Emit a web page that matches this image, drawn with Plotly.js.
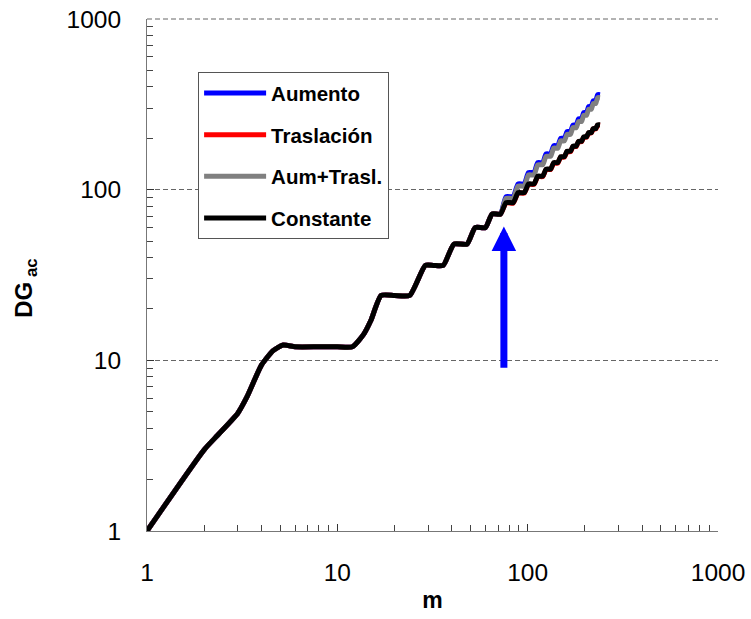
<!DOCTYPE html>
<html>
<head>
<meta charset="utf-8">
<script src="https://cdn.plot.ly/plotly-3.0.1.min.js"></script>
<style>
  html, body { margin: 0; padding: 0; background: #fff; }
  #chart { width: 751px; height: 619px; }
</style>
</head>
<body>
<div id="chart"></div>
<script>
// Accumulated DG versus m, log-log, four scenarios.
// Shared part of the curve (all scenarios coincide up to m = 72).
const mShared = [1, 2, 2.35, 3, 3.35, 4, 4.6, 5.2, 6, 8, 10, 12, 13.8, 15, 17, 20, 24, 29, 32, 36, 41, 48, 53, 60, 65, 72];
const dgShared = [1, 3.0, 3.64, 4.9, 6.1, 9.4, 11.4, 12.3, 12.0, 12, 12, 12, 14.3, 17.1, 24, 24, 24, 36, 36, 36, 48, 48, 60, 60, 72, 72];

// Beyond m = 72 each scenario follows its own staircase.
const mTail = [77, 84, 89, 96, 101, 108, 113, 120, 125, 132, 137, 144, 149, 156, 161, 168, 173, 180, 185, 192, 197, 204, 209, 216, 221, 228, 233, 240];
const dgAumento = [91, 91, 108, 108, 126, 126, 144, 144, 162, 162, 181, 181, 200, 200, 219, 219, 239, 239, 260, 260, 283, 283, 307, 307, 332, 332, 360, 360];
const dgTraslacion = [83.5, 83.5, 95.5, 95.5, 107.4, 107.4, 119.3, 119.3, 131.2, 131.2, 143, 143, 155, 155, 167, 167, 179, 179, 191, 191, 203, 203, 215, 215, 227, 227, 238.5, 238.5];
const dgAumTrasl = [89, 89, 105, 105, 122, 122, 140, 140, 157, 157, 175, 175, 193, 193, 211, 211, 231, 231, 251, 251, 273, 273, 296, 296, 320, 320, 346, 346];
const dgConstante = [84, 84, 96, 96, 108, 108, 120, 120, 132, 132, 144, 144, 156, 156, 168, 168, 180, 180, 192, 192, 204, 204, 216, 216, 228, 228, 240, 240];

const seriesNames = ['Aumento', 'Traslación', 'Aum+Trasl.', 'Constante'];
const seriesColors = ['#0000ff', '#ff0000', '#808080', '#000000'];
const seriesTails = [dgAumento, dgTraslacion, dgAumTrasl, dgConstante];

// Axis ticks
const tickVals = [1, 10, 100, 1000];
const tickText = ['1', '10', '100', '1000'];

// Blue arrow marking where the scenarios split
const arrowM = 75;
const arrowFrom = 8.86;
const arrowTo = 60.8;

const mAll = mShared.concat(mTail);
const traces = seriesNames.map((name, i) => ({
  type: 'scatter',
  mode: 'lines',
  name: name,
  legendgroup: name,
  x: mAll,
  y: dgShared.concat(seriesTails[i]),
  line: { color: seriesColors[i], width: 5, shape: 'spline', smoothing: 0.55 },
  hoverinfo: 'x+y+name'
}));

const FONT = 'Arial, "Liberation Sans", sans-serif';

const layout = {
  width: 751,
  height: 619,
  margin: { l: 147, r: 33, t: 19, b: 88, pad: 0 },
  paper_bgcolor: '#ffffff',
  plot_bgcolor: '#ffffff',
  font: { family: FONT, color: '#000' },
  showlegend: true,
  legend: {
    x: 0.0895, y: 0.896, xanchor: 'left', yanchor: 'top',
    bgcolor: '#ffffff', bordercolor: '#555', borderwidth: 1,
    font: { family: FONT, size: 20.5, color: '#000', weight: 'bold' },
    traceorder: 'grouped', tracegroupgap: 12,
    itemwidth: 62
  },
  xaxis: {
    type: 'log', range: [0, 3],
    tickmode: 'array', tickvals: tickVals, ticktext: tickText,
    ticks: 'inside', ticklen: 7, tickwidth: 1.5, tickcolor: '#333',
    minor: { ticks: 'inside', ticklen: 6, tickwidth: 1, tickcolor: '#444', dtick: 'D1', showgrid: false },
    showline: true, linecolor: '#777', linewidth: 1,
    showgrid: false, zeroline: false,
    tickfont: { family: FONT, size: 24.5, color: '#000' },
    ticklabelstandoff: 20,
    title: { text: '<b>m</b>', font: { family: FONT, size: 23, color: '#000' }, standoff: 6 },
    automargin: false
  },
  yaxis: {
    type: 'log', range: [0, 3],
    tickmode: 'array', tickvals: tickVals, ticktext: tickText,
    ticks: 'inside', ticklen: 7, tickwidth: 1.5, tickcolor: '#333',
    minor: { ticks: 'inside', ticklen: 6, tickwidth: 1, tickcolor: '#444', dtick: 'D1', showgrid: false },
    showline: true, linecolor: '#777', linewidth: 1,
    showgrid: true, gridcolor: '#666', gridwidth: 1, griddash: '5px,3px',
    zeroline: false,
    tickfont: { family: FONT, size: 24.5, color: '#000' },
    ticklabelstandoff: 20,
    automargin: false
  },
  shapes: [{
    // dashed gridline along the top edge of the plot (DG = 1000)
    type: 'line', xref: 'paper', yref: 'paper', x0: 0, x1: 1, y0: 1, y1: 1,
    line: { color: '#666', width: 1, dash: '5px,3px' }
  }],
  annotations: [{
    // y-axis title
    xref: 'paper', yref: 'paper', x: -0.212, y: 0.475,
    xanchor: 'center', yanchor: 'middle', textangle: -90,
    text: '<b>DG<sub> ac</sub></b>', showarrow: false,
    font: { family: FONT, size: 24, color: '#000' }
  }, {
    xref: 'x', yref: 'y', axref: 'x', ayref: 'y',
    x: Math.log10(arrowM), y: Math.log10(arrowTo),
    ax: Math.log10(arrowM), ay: Math.log10(arrowFrom),
    text: '', showarrow: true,
    arrowhead: 2, arrowsize: 0.7, arrowwidth: 7, arrowcolor: '#0000ff'
  }]
};

Plotly.newPlot('chart', traces, layout, { displayModeBar: false, staticPlot: true });
</script>
</body>
</html>
